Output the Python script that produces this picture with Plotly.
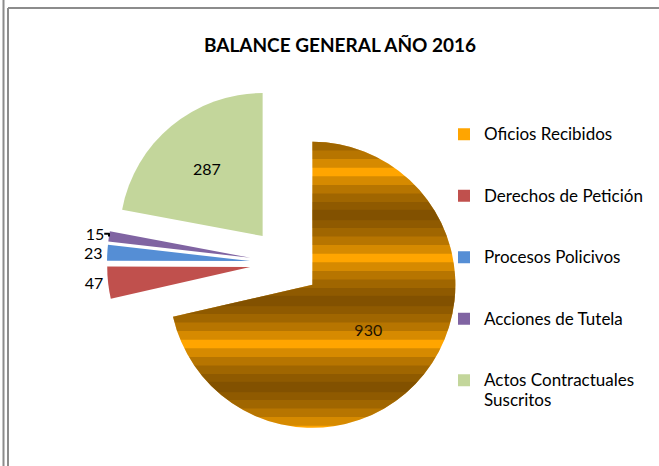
import plotly.graph_objects as go

categories = ["Oficios Recibidos", "Derechos de Petición", "Procesos Policivos",
              "Acciones de Tutela", "Actos Contractuales Suscritos"]
legend_lines = [["Oficios Recibidos"], ["Derechos de Petición"], ["Procesos Policivos"],
                ["Acciones de Tutela"], ["Actos Contractuales", "Suscritos"]]
values = [930, 47, 23, 15, 287]
colors = ["#FFA500", "#C0504D", "#558ED5", "#8064A2", "#C3D69B"]
title_text = "BALANCE GENERAL AÑO 2016"

W, H = 659, 466
FONT = "Lato, Open Sans, sans-serif"
PULL = 0.245
DOMAIN = dict(x=[107 / W, 463 / W], y=[1 - 441 / H, 1 - 85 / H])


def legend_label(lines, last=False):
    txt = "<br>".join("<span style='font-size:17px'>" + l + "</span>" for l in lines)
    if last:
        return txt
    return txt + "<br> " * (3 - len(lines))


labels = [legend_label(l, i == len(legend_lines) - 1) for i, l in enumerate(legend_lines)]

fig = go.Figure()
fig.add_trace(go.Pie(
    labels=labels,
    values=values,
    sort=False,
    direction="clockwise",
    rotation=0,
    pull=[PULL] * len(values),
    textinfo="value",
    textposition=["inside", "outside", "outside", "outside", "inside"],
    insidetextorientation="horizontal",
    textfont=dict(family=FONT, size=16, color="#000000"),
    marker=dict(colors=colors, line=dict(width=0)),
    domain=DOMAIN,
    hoverinfo="label+value",
))

# banded shading on the large slice (same slices, transparent except the first)
for sol in [0.9, 0.7, 0.5, 0.3, 0.12]:
    fig.add_trace(go.Pie(
        labels=labels,
        values=values,
        sort=False,
        direction="clockwise",
        rotation=0,
        pull=[PULL] * len(values),
        textinfo="none",
        showlegend=False,
        hoverinfo="skip",
        marker=dict(
            colors=["rgba(0,0,0,0)"] * len(values),
            line=dict(width=0),
            pattern=dict(
                shape=["-", "", "", "", ""],
                fgcolor="#5A3800",
                fgopacity=0.25,
                bgcolor="rgba(0,0,0,0)",
                size=86,
                solidity=sol,
                fillmode="overlay",
            ),
        ),
        domain=DOMAIN,
    ))

border = "#8C8C8C"
shapes = [
    dict(type="line", xref="paper", yref="paper", x0=3.5 / W, x1=3.5 / W, y0=0, y1=1,
         line=dict(color=border, width=2)),
    dict(type="line", xref="paper", yref="paper", x0=8 / W, x1=8 / W, y0=0, y1=1 - 8 / H,
         line=dict(color=border, width=2)),
    dict(type="line", xref="paper", yref="paper", x0=8 / W, x1=1, y0=1 - 8 / H, y1=1 - 8 / H,
         line=dict(color=border, width=2)),
]

fig.update_layout(
    width=W, height=H,
    margin=dict(l=0, r=0, t=0, b=0, autoexpand=False),
    paper_bgcolor="#FFFFFF",
    plot_bgcolor="#FFFFFF",
    font=dict(family=FONT, size=16, color="#000000"),
    title=dict(text="<b>" + title_text + "</b>", x=340 / W, xanchor="center",
               y=1 - 45 / H, yanchor="middle",
               font=dict(family=FONT, size=19, color="#000000")),
    legend=dict(x=444 / W, xanchor="left", y=1 - 118 / H, yanchor="top",
                valign="top", font=dict(size=15), itemwidth=30,
                bgcolor="rgba(0,0,0,0)"),
    shapes=shapes,
)

fig.write_html("out.html", config={"displayModeBar": False},
               post_script="document.body.style.margin='0';")
